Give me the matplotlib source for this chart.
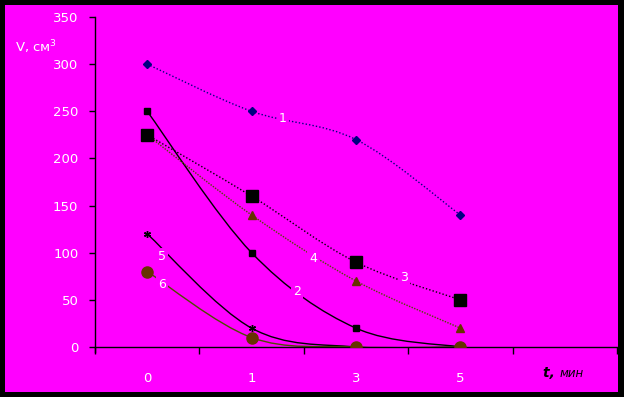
#!/usr/bin/env python3
import matplotlib

matplotlib.use("Agg")
import matplotlib.pyplot as plt
import numpy as np
from matplotlib.patches import PathPatch, Rectangle
from matplotlib.path import Path

# categories on the time axis (t, min); the fifth slot is left empty
t_labels = ["0", "1", "3", "5"]

s1 = [300, 250, 220, 140]
s2 = [250, 100, 20, 0]
s3 = [225, 160, 90, 50]
s4 = [225, 140, 70, 20]
s5 = [120, 20, 0, 0]
s6 = [80, 10, 0, 0]

MAGENTA = "#ff00ff"
NAVY = "#000080"
BROWN = "#663300"
OLIVE = "#4d4d00"


def smooth_path(xs, ys):
    # Excel-like smoothed line: cubic bezier through the points
    pts = np.column_stack([xs, ys]).astype(float)
    n = len(pts)
    verts = [pts[0]]
    codes = [Path.MOVETO]
    for i in range(n - 1):
        p0 = pts[max(i - 1, 0)]
        p1 = pts[i]
        p2 = pts[i + 1]
        p3 = pts[min(i + 2, n - 1)]
        c1 = p1 + (p2 - p0) / 6.0
        c2 = p2 - (p3 - p1) / 6.0
        verts += [c1, c2, p2]
        codes += [Path.CURVE4] * 3
    return Path(verts, codes)


fig = plt.figure(figsize=(6.24, 3.97), dpi=100, facecolor="black")
fig.patches.append(Rectangle((5 / 624, 5 / 397), 613 / 624, 387 / 397,
                             transform=fig.transFigure, facecolor=MAGENTA,
                             edgecolor="none", zorder=-10))

ax = fig.add_axes([95 / 624, 50 / 397, 522 / 624, 330 / 397])
ax.set_zorder(5)
ax.set_facecolor("none")
x = np.arange(len(t_labels))

# (values, line colour, line style, marker, marker size, marker colour, marker zorder)
series = [
    (s1, NAVY, (0, (1, 1.5)), "D", 4.5, NAVY, 3),
    (s2, "black", "-", "s", 4.5, "black", 3),
    (s3, "black", (0, (1, 1.5)), "s", 8, "black", 3.5),
    (s4, OLIVE, (0, (1, 1)), "^", 6, BROWN, 3),
    (s5, "black", "-", (6, 2, 0), 5, "black", 3),
    (s6, OLIVE, "-", "o", 8, BROWN, 3),
]
for ys, lc, ls, mk, ms, mc, mz in series:
    patch = PathPatch(smooth_path(x, ys), facecolor="none", edgecolor=lc,
                      linestyle=ls, linewidth=1.0, zorder=2)
    ax.add_patch(patch)
    ax.plot(x, ys, linestyle="none", marker=mk, markersize=ms, color=mc,
            markeredgecolor=mc, markeredgewidth=1.0, zorder=mz)

# curve numbers
num_x = [1.30, 1.435, 2.46, 1.59, 0.14, 0.14]
num_y = [242, 59, 74, 94, 96, 66]
for i, (nx, ny) in enumerate(zip(num_x, num_y)):
    ax.text(nx, ny, str(i + 1), color="white", fontsize=9, ha="center",
            va="center", zorder=4,
            bbox=dict(facecolor=MAGENTA, edgecolor="none", pad=1.5))

ax.set_xlim(-0.5, 4.5)
ax.set_ylim(0, 350)
ax.set_yticks(np.arange(0, 351, 50))
ax.set_xticks(np.arange(-0.5, 4.6, 1.0))
ax.set_xticklabels([])
ax.set_xticks(x, minor=True)
ax.set_xticklabels(t_labels, minor=True)
ax.tick_params(axis="x", which="major", direction="out", length=5, width=1, color="black")
ax.tick_params(axis="x", which="minor", length=0, pad=18, labelsize=9.5, labelcolor="white")
ax.tick_params(axis="y", direction="out", length=4, width=1, color="black",
               labelsize=9.5, labelcolor="white", pad=8)
for side in ["top", "right"]:
    ax.spines[side].set_visible(False)
for side in ["left", "bottom"]:
    ax.spines[side].set_color("black")
    ax.spines[side].set_linewidth(1.0)
ax.spines["left"].set_bounds(-5, 350)

ax.text(4.45 - 0.5, -28, "t, ", fontsize=10, fontweight="bold", style="italic",
        ha="right", va="center", color="black", clip_on=False)
ax.text(4.45 - 0.5, -28, "мин", fontsize=8.5, style="italic",
        ha="left", va="center", color="black", clip_on=False)
fig.text(15 / 624, 1 - 47 / 397, "V, см$^3$", color="white", fontsize=9.5,
         ha="left", va="center")

fig.savefig("out.png", dpi=100, facecolor=fig.get_facecolor())
